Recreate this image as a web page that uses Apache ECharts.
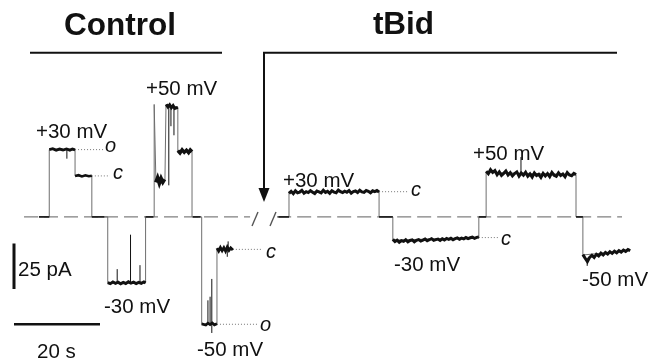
<!DOCTYPE html>
<html><head><meta charset="utf-8">
<script src="https://cdn.jsdelivr.net/npm/echarts@6/dist/echarts.min.js"></script>
<style>html,body{margin:0;padding:0;background:#fff}#c{width:662px;height:362px}</style>
</head><body><div id="c"></div>
<script>
// time in s, current in pA
// ---- Control recording ----
var ctrlSteps = [[5.8,0],[8.2,0],[8.2,37.1],[14.2,37.1],[14.2,22.6],[18.1,22.6],[18.1,0],[21.8,0],[21.8,-36.4],[30.6,-36.4],[30.6,0],[32.6,0],[32.6,62],[33.0,62],[33.0,20.1],[35.1,20.1],[35.35,62],[38.1,60.5],[38.1,36.1],[41.4,36.1],[41.4,0],[43.65,0],[43.65,-59.2],[47.2,-59.2],[47.2,-17.9],[50.9,-17.9]];
var ctrlBaseSegs = [[5.8,8.2],[18.1,21.0],[30.6,32.4],[41.6,43.4]];
var p30open = [[8.2,37.1],[9.0,37.6],[9.8,36.8],[10.6,37.4],[11.4,36.9],[12.2,37.5],[13.0,36.8],[13.6,37.4],[14.2,37.0]];
var p30closed = [[14.2,22.6],[15.0,23.0],[15.8,22.3],[16.6,22.9],[17.4,22.4],[18.1,22.7]];
var pm30 = [[21.8,-36.2],[22.4,-36.8],[23.0,-35.9],[23.6,-36.6],[24.2,-36.0],[24.8,-36.9],[25.4,-36.1],[26.0,-36.7],[26.6,-35.8],[27.2,-36.5],[27.8,-36.0],[28.4,-36.8],[29.0,-36.1],[29.6,-36.6],[30.2,-35.9],[30.6,-36.4]];
var p50mid = [[33.0,19.0],[33.4,21.5],[33.8,18.6],[34.2,21.2],[34.6,19.2],[35.0,20.8]];
var p50top = [[35.4,62.0],[35.8,60.6],[36.2,61.8],[36.6,60.2],[37.0,61.4],[37.4,59.8],[37.8,60.9],[38.1,60.4]];
var p50closed = [[38.1,36.5],[38.6,35.2],[39.1,37.0],[39.6,35.6],[40.1,36.8],[40.6,35.4],[41.0,36.9],[41.4,35.9]];
var pm50open = [[43.65,-59.0],[44.1,-58.4],[44.6,-59.6],[45.1,-58.6],[45.6,-59.4],[46.1,-58.5],[46.6,-59.5],[47.2,-58.9]];
var pm50closed = [[47.2,-17.2],[47.6,-18.8],[48.0,-16.9],[48.4,-18.6],[48.8,-17.0],[49.2,-18.9],[49.6,-16.6],[50.0,-18.4],[50.4,-17.1],[50.9,-18.2]];
// spikes: [t, from, to]
var ctrlSpikes = [[12.3,37.1,32.1],[24.0,-36.4,-28.8],[27.1,-36.4,-9.8],[29.3,-36.4,-26.6],[36.0,61,17.4],[36.5,61,50],[37.2,60.5,45],[45.1,-59.2,-46],[45.6,-59.2,-44],[46.0,-59.2,-34.2],[46.0,-59.2,-64],[49.8,-17.9,-13.5],[49.6,-17.9,-22]];
// dotted state markers: [t0, t1, level]
var ctrlDots = [[14.2,20.9,37.1],[18.1,22.3,22.6],[50.9,57.7,-17.9],[47.2,56.7,-59.2]];

// ---- tBid recording ----
var tbidSteps = [[61.2,0],[63.95,0],[63.95,13.9],[84.9,13.9],[84.9,0],[88.1,0],[88.1,-12.8],[108.1,-11.4],[108.1,0],[109.8,0],[109.8,24.5],[130.7,23.4],[130.7,0],[132.3,0],[132.3,-21],[143.3,-18.5]];
var tbidBaseSegs = [[61.5,63.95],[84.9,88.1],[108.1,109.8],[130.7,132.3]];
var tb30 = {t0:63.95, t1:84.9, v:[13.0,14.1,12.8,14.4,13.3,13.7,14.6,13.1,13.9,13.4,14.5,13.6,12.9,14.3,13.8,13.2,14.7,13.5,14.1,13.0,14.4,13.7,13.3,14.8,13.9,13.4,14.2,13.6,14.5,13.1,14.0,14.3,13.4,14.7,13.8,13.5,14.6,14.1,13.3,14.4,13.9,14.5,13.7]};
var tbm30 = {t0:88.1, t1:108.1, v:[-12.4,-13.6,-12.8,-14.0,-13.1,-13.5,-12.6,-13.8,-13.0,-12.7,-13.7,-12.9,-12.5,-13.3,-12.8,-12.2,-13.1,-12.6,-12.0,-12.9,-12.5,-12.2,-13.0,-12.1,-12.7,-11.9,-12.4,-11.8,-12.6,-12.0,-11.6,-12.3,-11.7,-12.1,-11.4,-12.0,-11.5,-11.2,-11.8,-11.3,-11.1]};
var tb50 = {t0:109.8, t1:130.7, v:[25.2,23.8,26.0,24.5,25.5,23.2,24.8,22.9,24.0,25.3,23.1,24.4,22.6,23.9,24.8,22.5,24.2,23.0,24.6,22.4,23.7,21.9,24.2,22.8,23.5,21.8,24.0,22.6,23.9,22.2,24.5,23.0,22.4,24.3,22.8,23.6,22.1,24.4,23.1,22.7,24.0,23.3]};
var tbm50 = {t0:132.3, t1:143.3, v:[-20.8,-22.8,-24.6,-22.3,-21.2,-22.4,-20.6,-21.5,-20.0,-21.0,-19.6,-20.5,-19.2,-20.1,-18.9,-19.8,-18.6,-19.4,-18.3,-19.0,-18.0,-18.6]};
var tbidSpikes = [[117.9,24.0,33.0],[133.3,-22.5,-27.0]];
var tbidDots = [[84.9,91.6,13.9],[108.1,112.8,-11.4]];

// baseline (zero current), two pieces around the break
var zeroPieces = [[2.33,54.9],[61.2,141.4]];
// scale bars: 25 pA and 20 s
var scaleY = [[0,-14.7],[0,-39.7]];
var scaleX = [[0,-59.2],[20,-59.2]];

function spread(s){ return s.v.map(function(v,i){ return [s.t0+(s.t1-s.t0)*i/(s.v.length-1), v]; }); }
function ln(data, color, width, type, z){
  return {type:'line', data:data, symbol:'none', silent:true, animation:false, z:z||2,
    lineStyle:{color:color, width:width, type:type||'solid', cap:'butt', join:'miter'}};
}
var series = [];
zeroPieces.forEach(function(p){ series.push(ln([[p[0],0],[p[1],0]], '#808080', 1.3, [14,6], 1)); });
series.push(ln(ctrlSteps, '#6e6e6e', 1, 'solid', 2));
series.push(ln(tbidSteps, '#6e6e6e', 1, 'solid', 2));
ctrlBaseSegs.concat(tbidBaseSegs).forEach(function(b){ series.push(ln([[b[0],0],[b[1],0]], '#222', 1.6, 'solid', 3)); });
ctrlDots.concat(tbidDots).forEach(function(d){ series.push(ln([[d[0],d[2]],[d[1],d[2]]], '#777', 1, [1,2], 2)); });
ctrlSpikes.concat(tbidSpikes).forEach(function(s){ series.push(ln([[s[0],s[1]],[s[0],s[2]]], '#111', 1, 'solid', 4)); });
[[p30open,2.8],[p30closed,2.6],[pm30,3.0],[p50mid,3.8],[p50top,3.0],[p50closed,3.4],[pm50open,2.8],[pm50closed,2.8]].forEach(function(p){
  series.push(ln(p[0], '#111', p[1], 'solid', 5));
});
[tb30,tbm30,tb50,tbm50].forEach(function(s){ series.push(ln(spread(s), '#111', 3, 'solid', 5)); });
series.push(ln(scaleY, '#111', 3, 'solid', 5));
series.push(ln(scaleX, '#111', 2.6, 'solid', 5));

var F = '"Liberation Sans", Arial, sans-serif';
function txt(x, y, s, size, opt){
  opt = opt || {};
  return {type:'text', x:x, y:y, silent:true, z:10, style:{text:s, fill:'#111',
    font:(opt.italic?'italic ':'')+(opt.bold?'bold ':'')+size+'px '+F, align:opt.align||'left', verticalAlign:'middle'}};
}
var graphic = [
  txt(120, 26, 'Control', 31.5, {bold:true, align:'center'}),
  txt(403.5, 25, 'tBid', 31.5, {bold:true, align:'center'}),
  {type:'line', shape:{x1:30, y1:52.7, x2:222, y2:52.7}, style:{stroke:'#111', lineWidth:2}, silent:true},
  {type:'polyline', shape:{points:[[264,190],[264,52.7],[617,52.7]]}, style:{stroke:'#111', lineWidth:2, fill:null}, silent:true},
  {type:'polygon', shape:{points:[[258.5,188],[269.5,188],[264,202]]}, style:{fill:'#111'}, silent:true},
  {type:'line', shape:{x1:252, y1:226, x2:258, y2:212}, style:{stroke:'#555', lineWidth:1.4}, silent:true},
  {type:'line', shape:{x1:270, y1:226, x2:276, y2:212}, style:{stroke:'#555', lineWidth:1.4}, silent:true},
  txt(36, 132.8, '+30 mV', 20.5),
  txt(105, 146, 'o', 20, {italic:true}),
  txt(113, 173, 'c', 20, {italic:true}),
  txt(146, 89.8, '+50 mV', 20.5),
  txt(104, 307.8, '-30 mV', 20.5),
  txt(197, 350.8, '-50 mV', 20.5),
  txt(266, 252, 'c', 20, {italic:true}),
  txt(260, 325, 'o', 20, {italic:true}),
  txt(18, 270.8, '25 pA', 20.5),
  txt(37, 352.8, '20 s', 20.5),
  txt(283, 181.8, '+30 mV', 20.5),
  txt(411, 190, 'c', 20, {italic:true}),
  txt(473, 154.8, '+50 mV', 20.5),
  txt(394, 265.8, '-30 mV', 20.5),
  txt(501, 239, 'c', 20, {italic:true}),
  txt(582, 280.8, '-50 mV', 20.5)
];

var chart = echarts.init(document.getElementById('c'), null, {renderer:'canvas'});
chart.setOption({
  animation:false,
  backgroundColor:'#fff',
  grid:{left:14, top:71.8, width:645, height:294.4, containLabel:false},
  xAxis:{type:'value', min:0, max:150, show:false},
  yAxis:{type:'value', min:-80, max:80, show:false},
  series:series,
  graphic:graphic
});
</script></body></html>
